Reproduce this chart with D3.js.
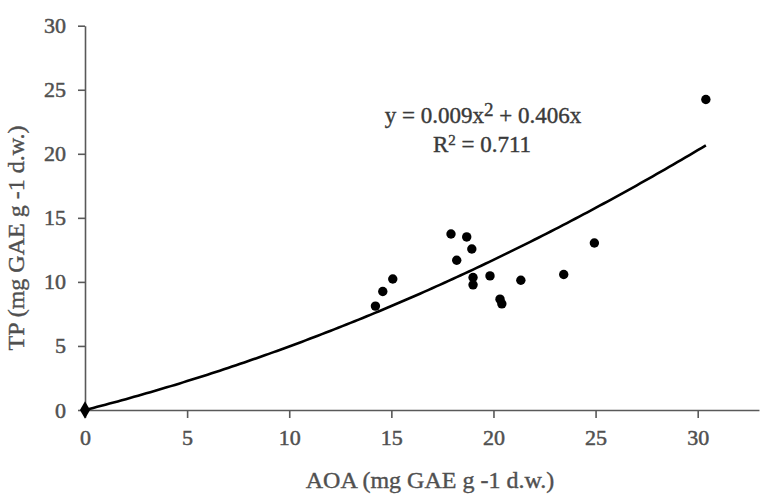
<!DOCTYPE html>
<html>
<head>
<meta charset="utf-8">
<script src="https://cdn.jsdelivr.net/npm/d3@7"></script>
<style>
  body { margin: 0; background: #fff; }
  svg { display: block; }
  .tick text { font-family: "Liberation Serif", "DejaVu Serif", serif; font-size: 22px; fill: #505050; stroke: #505050; stroke-width: 0.5; }
  .domain, .tick line { stroke: #595959; stroke-width: 1.6; }
  .title { font-family: "Liberation Serif", "DejaVu Serif", serif; font-size: 24px; fill: #505050; stroke: #505050; stroke-width: 0.4; }
  .eq { font-family: "Liberation Serif", "DejaVu Serif", serif; font-size: 23px; fill: #3a3a3a; stroke: #3a3a3a; stroke-width: 0.4; }
</style>
</head>
<body>
<svg width="761" height="494"></svg>
<script>
// AOA (x) vs TP (y)
var aoa = [0, 14.22, 14.58, 15.07, 17.92, 18.20, 18.69, 18.94, 19.00, 19.00, 19.83, 20.32, 20.41, 21.34, 23.44, 24.94, 30.40];
var tp  = [0, 8.11, 9.25, 10.23, 13.74, 11.69, 13.51, 12.57, 10.34, 9.77, 10.47, 8.65, 8.29, 10.13, 10.58, 13.04, 24.24];
var xTicks = [0, 5, 10, 15, 20, 25, 30];
var yTicks = [0, 5, 10, 15, 20, 25, 30];
// trendline y = a x^2 + b x
var fitA = 0.009, fitB = 0.406;
var fitRange = [0, 30.4];

var svg = d3.select("svg");
var padLeft = 85, padTop = 25.7, padBottom = 410;

var x = d3.scaleLinear().domain([0, 33]).range([padLeft, padLeft + 33 * (697.7 - 85) / 30]);
var y = d3.scaleLinear().domain([0, 30]).range([padBottom, padTop]);

svg.append("g")
    .attr("class", "x-axis")
    .attr("transform", "translate(0," + padBottom + ")")
    .call(d3.axisBottom(x).tickValues(xTicks).tickSize(8).tickSizeOuter(0).tickPadding(11));

svg.append("g")
    .attr("class", "y-axis")
    .attr("transform", "translate(" + padLeft + ",0)")
    .call(d3.axisLeft(y).tickValues(yTicks).tickSize(7).tickSizeOuter(0).tickPadding(12));

// trendline
var curve = d3.range(fitRange[0], fitRange[1] + 0.001, 0.2).map(function(v) {
    return [v, fitA * v * v + fitB * v];
});
svg.append("path")
    .datum(curve)
    .attr("fill", "none")
    .attr("stroke", "#000")
    .attr("stroke-width", 2.6)
    .attr("d", d3.line().x(function(d) { return x(d[0]); }).y(function(d) { return y(d[1]); }));

var pts = aoa.map(function(v, i) { return { x: v, y: tp[i] }; });

svg.selectAll(".dot")
    .data(pts.filter(function(d) { return d.x > 0; }))
    .enter()
    .append("circle")
    .attr("class", "dot")
    .attr("cx", function(d) { return x(d.x); })
    .attr("cy", function(d) { return y(d.y); })
    .attr("r", 4.7)
    .attr("fill", "#000");

svg.selectAll(".origin")
    .data(pts.filter(function(d) { return d.x === 0; }))
    .enter()
    .append("path")
    .attr("class", "origin")
    .attr("transform", function(d) { return "translate(" + x(d.x) + "," + y(d.y) + ")"; })
    .attr("d", d3.symbol().type(d3.symbolDiamond).size(90))
    .attr("fill", "#000");

// equation
var eq = svg.append("text").attr("class", "eq").attr("x", 483).attr("y", 123).attr("text-anchor", "middle");
eq.append("tspan").text("y = 0.009x");
eq.append("tspan").attr("dy", -7).attr("font-size", "19px").text("2");
eq.append("tspan").attr("dy", 7).text(" + 0.406x");

var r2 = svg.append("text").attr("class", "eq").attr("x", 482).attr("y", 152).attr("text-anchor", "middle");
r2.append("tspan").text("R");
r2.append("tspan").attr("dy", -7).attr("font-size", "15px").text("2");
r2.append("tspan").attr("dy", 7).text(" = 0.711");

// axis titles
svg.append("text")
    .attr("class", "title")
    .attr("x", 430)
    .attr("y", 488)
    .attr("text-anchor", "middle")
    .text("AOA (mg GAE g -1 d.w.)");

svg.append("text")
    .attr("class", "title")
    .attr("transform", "translate(24,238) rotate(-90)")
    .attr("text-anchor", "middle")
    .text("TP (mg GAE g -1 d.w.)");
</script>
</body>
</html>
